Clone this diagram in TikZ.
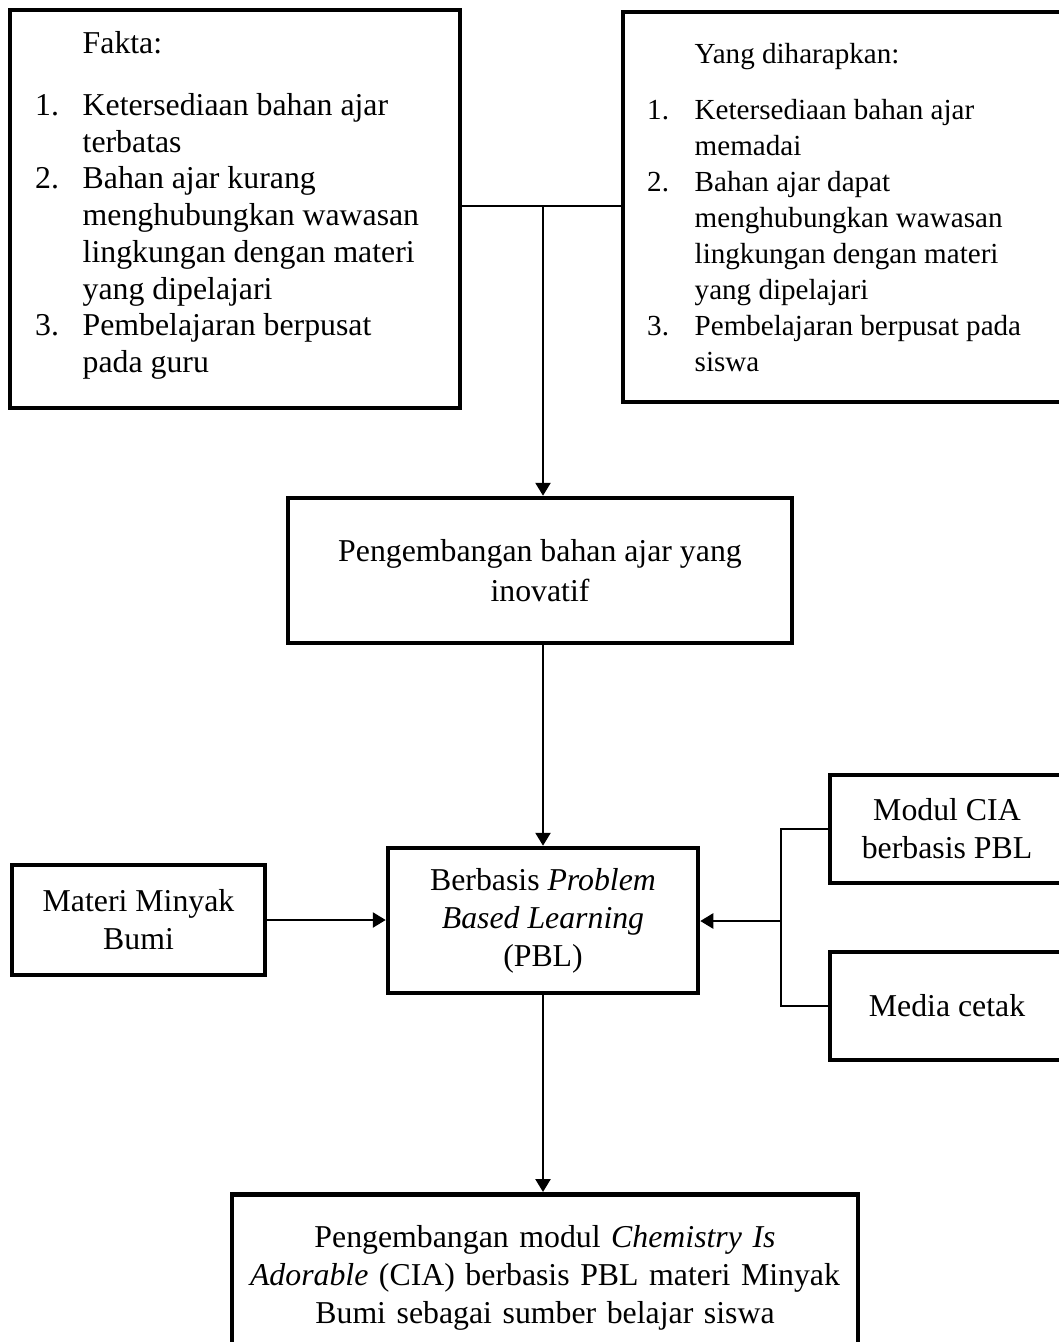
\documentclass[tikz,border=0pt]{standalone}
\usepackage{fontspec}
\setmainfont{Liberation Serif}
\usetikzlibrary{arrows.meta}
% nomor butir dan baris lanjutan dengan indentasi yang sama
\newcommand{\nomor}[1]{\makebox[47.5pt][l]{#1}}
\newcommand{\lanjut}{\hspace*{47.5pt}}
\tikzset{
  kotak/.style={draw, line width=4.5pt, inner sep=0pt, align=center,
    font=\fontsize{31.8pt}{38pt}\selectfont},
  daftar/.style={anchor=north west, inner sep=0pt, align=left},
  garis/.style={line width=2pt},
  panah/.style={line width=2.5pt, -{Triangle[length=13pt,width=15pt]}}
}
\begin{document}
\begin{tikzpicture}[x=1pt,y=-1pt]
\useasboundingbox (0,0) rectangle (1059,1342);
\clip (0,0) rectangle (1059,1342);
% kotak fakta dan harapan
\node[kotak, minimum width=450pt, minimum height=398pt] (fakta) at (235,209) {};
\node[daftar, font=\fontsize{31.8pt}{36.7pt}\selectfont] (faktaisi) at (35,31.3) {%
\lanjut Fakta:\\[25.3pt]
\nomor{1.}Ketersediaan bahan ajar\\
\lanjut terbatas\\
\nomor{2.}Bahan ajar kurang\\
\lanjut menghubungkan wawasan\\
\lanjut lingkungan dengan materi\\
\lanjut yang dipelajari\\
\nomor{3.}Pembelajaran berpusat\\
\lanjut pada guru};
\node[kotak, minimum width=447pt, minimum height=390pt] (harapan) at (846.5,207) {};
\node[daftar, font=\fontsize{29.1pt}{36pt}\selectfont] (harapanisi) at (647,43) {%
\lanjut Yang diharapkan:\\[20pt]
\nomor{1.}Ketersediaan bahan ajar\\
\lanjut memadai\\
\nomor{2.}Bahan ajar dapat\\
\lanjut menghubungkan wawasan\\
\lanjut lingkungan dengan materi\\
\lanjut yang dipelajari\\
\nomor{3.}Pembelajaran berpusat pada\\
\lanjut siswa};
%
\node[kotak, minimum width=504pt, minimum height=145pt] (inovatif) at (540,570.5)
  {Pengembangan bahan ajar yang\\[2pt]inovatif};
\node[kotak, minimum width=310pt, minimum height=145pt] (pbl) at (543,920.5)
  {\rule{0pt}{5pt}Berbasis \textit{Problem}\\\textit{Based Learning}\\(PBL)};
\node[kotak, minimum width=253pt, minimum height=110pt] (materi) at (138.5,920)
  {Materi Minyak\\Bumi};
\node[kotak, minimum width=234pt, minimum height=108pt] (modul) at (947,829)
  {Modul CIA\\berbasis PBL};
\node[kotak, minimum width=234pt, minimum height=108pt] (media) at (947,1006)
  {Media cetak};
\node[kotak, anchor=north, text width=610pt, inner xsep=8pt, inner ysep=31pt] (akhir) at (545,1192)
  {Pengembangan modul \textit{Chemistry Is}\\\textit{Adorable} (CIA) berbasis PBL materi Minyak\\Bumi sebagai sumber belajar siswa};
% penghubung
\coordinate (simpul) at (543,206);
\draw[garis] (fakta.east |- simpul) -- (harapan.west |- simpul);
\draw[panah] (simpul) -- (simpul |- inovatif.north);
\draw[panah] (simpul |- inovatif.south) -- (simpul |- pbl.north);
\draw[panah] (materi.east) -- (pbl.west |- materi.east);
\coordinate (cabang) at (781,921);
\draw[garis] (modul.west) -| (cabang) |- (media.west);
\draw[panah] (cabang) -- (pbl.east |- cabang);
\draw[panah] (pbl.south) -- (pbl.south |- akhir.north);
\end{tikzpicture}
\end{document}
